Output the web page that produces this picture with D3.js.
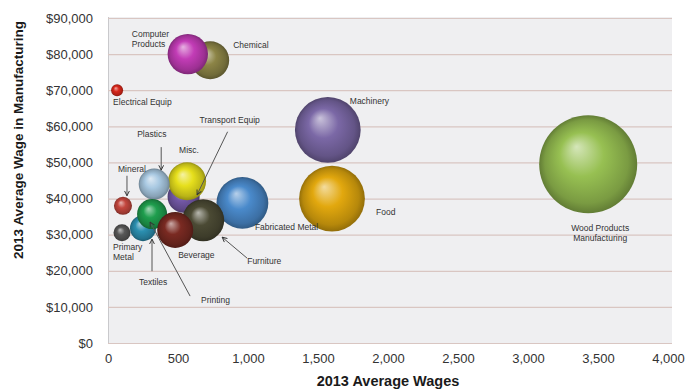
<!DOCTYPE html>
<html>
<head>
<meta charset="utf-8">
<script src="https://cdn.jsdelivr.net/npm/d3@7/dist/d3.min.js"></script>
<style>
  html, body { margin: 0; padding: 0; background: #ffffff; }
  svg { display: block; font-family: "Liberation Sans", Arial, sans-serif; }
</style>
</head>
<body>
<svg id="chart" width="687" height="390"></svg>
<script>
// Manufacturing sectors: 2013 average wages (employment count on x) vs. average wage
const sectors = [
  "Wood Products Manufacturing", "Machinery", "Food", "Fabricated Metal",
  "Chemical", "Computer Products", "Transport Equip", "Misc.", "Plastics",
  "Furniture", "Textiles", "Printing", "Beverage", "Mineral",
  "Primary Metal", "Electrical Equip"
];
const avgWages = [3430, 1570, 1600, 960, 730, 570, 540, 565, 330, 680, 250, 315, 480, 107, 100, 65];
const avgWage  = [49500, 59000, 40000, 38800, 78300, 80000, 40500, 44800, 44000, 34000, 31800, 35700, 31300, 38000, 30500, 70000];
const bubbleSize = [100, 45, 45, 28, 15, 17, 10.7, 15, 10, 18.4, 7, 9.4, 13.5, 3.4, 3, 1.5];
const colors = [
  "#97c052", "#7b68a6", "#e2a80e", "#4a8acb", "#8c8446", "#c23cb6",
  "#7358a6", "#e6df1c", "#a9c9e2", "#4b4a34", "#2b8fb0", "#1f9e4e",
  "#7a2a22", "#c2463e", "#575757", "#d8261a"
];

const xTicks = [0, 500, 1000, 1500, 2000, 2500, 3000, 3500, 4000];
const yTicks = [0, 10000, 20000, 30000, 40000, 50000, 60000, 70000, 80000, 90000];

// Label placement (pixel offsets from each bubble centre) and leader arrows
const labelLayout = {
  "Wood Products Manufacturing": { lines: ["Wood Products", "Manufacturing"], dx: 12, dy: 64, anchor: "middle" },
  "Machinery": { lines: ["Machinery"], dx: 22, dy: -29 },
  "Food": { lines: ["Food"], dx: 44, dy: 13 },
  "Fabricated Metal": { lines: ["Fabricated Metal"], dx: 12.5, dy: 24 },
  "Chemical": { lines: ["Chemical"], dx: 23, dy: -15 },
  "Computer Products": { lines: ["Computer", "Products"], dx: -56, dy: -20 },
  "Transport Equip": { lines: ["Transport Equip"], dx: 16, dy: -77, arrow: [44, -65, 13.5, -2] },
  "Misc.": { lines: ["Misc."], dx: -8, dy: -31 },
  "Plastics": { lines: ["Plastics"], dx: -17, dy: -50, arrow: [7, -37, 7, -14] },
  "Furniture": { lines: ["Furniture"], dx: 44, dy: 41, arrow: [44, 38, 19, 17] },
  "Textiles": { lines: ["Textiles"], dx: -4, dy: 54, arrow: [9, 43, 9, 11] },
  "Printing": { lines: ["Printing"], dx: 49, dy: 86, arrow: [38, 82, -2, 8] },
  "Beverage": { lines: ["Beverage"], dx: 3, dy: 25 },
  "Mineral": { lines: ["Mineral"], dx: -5, dy: -37, arrow: [4, -30, 4, -10] },
  "Primary Metal": { lines: ["Primary", "Metal"], dx: -9, dy: 14 },
  "Electrical Equip": { lines: ["Electrical Equip"], dx: -4, dy: 12 }
};

const data = sectors.map((name, i) => ({
  name, x: avgWages[i], y: avgWage[i], size: bubbleSize[i], color: colors[i]
}));

const svg = d3.select("#chart");
const plot = { left: 108, right: 672, top: 17, bottom: 343 };

const x = d3.scaleLinear().domain([0, 4000]).range([108, 668]);
const y = d3.scaleLinear().domain([0, 90000]).range([343, 18]);
const r = d3.scaleSqrt().domain([0, 100]).range([0, 49]);

// plot background
svg.append("rect")
  .attr("x", plot.left).attr("y", plot.top)
  .attr("width", plot.right - plot.left).attr("height", plot.bottom - plot.top)
  .attr("fill", "#efeff1");
svg.append("line")
  .attr("x1", plot.left + 0.5).attr("x2", plot.left + 0.5)
  .attr("y1", plot.top).attr("y2", plot.bottom)
  .attr("stroke", "#c9c9cc");

// horizontal gridlines
const grid = svg.append("g")
  .attr("transform", `translate(${plot.left},0)`)
  .call(d3.axisLeft(y).tickValues(yTicks).tickSize(-(plot.right - plot.left)).tickFormat(""));
grid.select(".domain").remove();
grid.selectAll(".tick line").attr("stroke", "#d9c6c2").attr("stroke-width", 1.2);

// y axis labels
const yAxis = svg.append("g")
  .attr("transform", `translate(${plot.left},0)`)
  .call(d3.axisLeft(y).tickValues(yTicks).tickSize(0).tickPadding(15).tickFormat(d3.format("$,")));
yAxis.select(".domain").remove();
yAxis.selectAll("text").attr("font-size", 13).attr("fill", "#333")
  .attr("font-family", "'Liberation Sans', Arial, sans-serif");

// x axis labels
const xAxis = svg.append("g")
  .attr("transform", `translate(0,${plot.bottom})`)
  .call(d3.axisBottom(x).tickValues(xTicks).tickSize(0).tickPadding(11).tickFormat(d3.format(",")));
xAxis.select(".domain").remove();
xAxis.selectAll("text").attr("font-size", 13).attr("fill", "#333")
  .attr("font-family", "'Liberation Sans', Arial, sans-serif");

// axis titles
svg.append("text")
  .attr("x", 388).attr("y", 386)
  .attr("text-anchor", "middle")
  .attr("font-size", 14.5).attr("font-weight", "bold").attr("fill", "#1a1a1a")
  .text("2013 Average Wages");
svg.append("text")
  .attr("transform", "translate(23,140) rotate(-90)")
  .attr("text-anchor", "middle")
  .attr("font-size", 13.5).attr("font-weight", "bold").attr("fill", "#1a1a1a")
  .text("2013 Average Wage in Manufacturing");

// sphere shading gradients
const defs = svg.append("defs");
data.forEach((d, i) => {
  const base = d3.color(d.color);
  const g = defs.append("radialGradient")
    .attr("id", "sphere" + i)
    .attr("cx", "50%").attr("cy", "50%").attr("r", "50%")
    .attr("fx", "38%").attr("fy", "32%");
  g.append("stop").attr("offset", "0%").attr("stop-color", d3.interpolateRgb(base, "#ffffff")(0.6));
  g.append("stop").attr("offset", "45%").attr("stop-color", base.formatHex());
  g.append("stop").attr("offset", "85%").attr("stop-color", base.darker(0.6).formatHex());
  g.append("stop").attr("offset", "100%").attr("stop-color", base.darker(1.2).formatHex());
});

defs.append("marker")
  .attr("id", "arrowhead")
  .attr("viewBox", "0 0 10 10")
  .attr("refX", 9).attr("refY", 5)
  .attr("markerWidth", 6).attr("markerHeight", 6)
  .attr("markerUnits", "userSpaceOnUse")
  .attr("orient", "auto")
  .append("path")
  .attr("d", "M1,1 L9,5 L1,9")
  .attr("fill", "none").attr("stroke", "#333").attr("stroke-width", 1.6);

// bubbles
svg.append("g").selectAll("circle")
  .data(data)
  .join("circle")
  .attr("cx", d => x(d.x))
  .attr("cy", d => y(d.y))
  .attr("r", d => r(d.size))
  .attr("fill", (d, i) => `url(#sphere${i})`);

// leader arrows
const arrows = data.filter(d => labelLayout[d.name].arrow);
svg.append("g").selectAll("line")
  .data(arrows)
  .join("line")
  .attr("x1", d => x(d.x) + labelLayout[d.name].arrow[0])
  .attr("y1", d => y(d.y) + labelLayout[d.name].arrow[1])
  .attr("x2", d => x(d.x) + labelLayout[d.name].arrow[2])
  .attr("y2", d => y(d.y) + labelLayout[d.name].arrow[3])
  .attr("stroke", "#555")
  .attr("stroke-width", 1)
  .attr("marker-end", "url(#arrowhead)");

// labels
const labels = svg.append("g").selectAll("text")
  .data(data)
  .join("text")
  .attr("x", d => x(d.x) + labelLayout[d.name].dx)
  .attr("y", d => y(d.y) + labelLayout[d.name].dy)
  .attr("text-anchor", d => labelLayout[d.name].anchor || "start")
  .attr("font-size", 8.5)
  .attr("fill", "#333");
labels.each(function(d) {
  const lay = labelLayout[d.name];
  d3.select(this).selectAll("tspan")
    .data(lay.lines)
    .join("tspan")
    .attr("x", x(d.x) + lay.dx)
    .attr("dy", (t, j) => j === 0 ? "0.35em" : "1.15em")
    .text(t => t);
});
</script>
</body>
</html>
